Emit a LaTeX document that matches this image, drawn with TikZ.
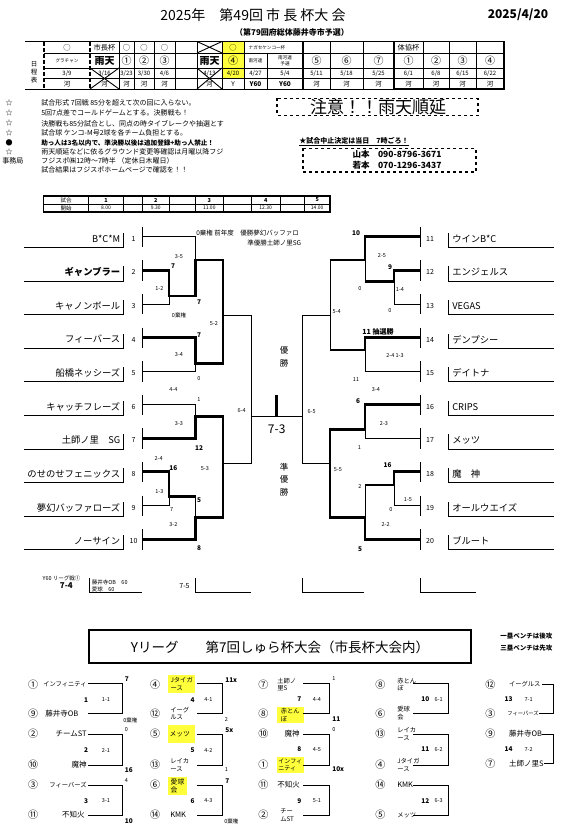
\documentclass[tikz,border=0pt]{standalone}
\usepackage{fontspec}
\setmainfont{Noto Sans CJK JP}
\usetikzlibrary{positioning}
\definecolor{hiyellow}{RGB}{255,255,60}
\tikzset{
  win/.style={line width=2.9pt},
  tname/.style={font=\fontsize{9.3}{10}\selectfont,inner sep=0pt},
  tnum/.style={font=\fontsize{7}{8}\selectfont,inner sep=0pt},
  sc/.style={font=\fontsize{5.5}{6}\selectfont,inner sep=0pt},
  bsc/.style={font=\bfseries\fontsize{6.5}{7}\selectfont,inner sep=0pt},
  cell/.style={font=\fontsize{6.5}{7}\selectfont,inner sep=0pt},
  tinytxt/.style={font=\fontsize{4.6}{5.5}\selectfont,inner sep=0pt,align=center},
  circ/.style={font=\fontsize{10}{11}\selectfont,inner sep=0pt},
  notetxt/.style={font=\fontsize{7}{8}\selectfont,inner sep=0pt,anchor=west},
  lname/.style={font=\fontsize{7.5}{8}\selectfont,inner sep=0pt},
  lname2/.style={font=\fontsize{6.3}{7.5}\selectfont,inner sep=0pt,align=left},
  hl/.style={fill=hiyellow,inner sep=0pt,align=left},
}
\begin{document}
\begin{tikzpicture}[x=1pt,y=-1pt,line width=0.6pt]
\useasboundingbox (0,0) rectangle (577,839);
\fill[white] (0,0) rectangle (577,839);

% title
\node[font=\fontsize{14}{15}\selectfont] (title) at (253,15) {2025年　第49回 市 長 杯大 会};
\node[font=\bfseries\fontsize{12}{13}\selectfont] (date) at (518,15) {2025/4/20};
\node[font=\bfseries\fontsize{8}{9}\selectfont] (sub) at (292,32.5) {（第79回府総体藤井寺市予選）};

% schedule table
\fill[hiyellow] (222,41.5) rectangle (244,78.5);
\foreach \x in {119,134,154,175,197,222,244,330,363,423,449,476}
  \draw (\x,41.5) -- (\x,89);
\draw (267,53) -- (267,89);
\foreach \y in {53,68,78.5}
  \draw (44,\y) -- (504,\y);
\draw[line width=1pt] (25,41.5) -- (504,41.5) (25,89) -- (504,89);
\draw[line width=1.4pt] (303,41.5) -- (303,89);
\draw[line width=1.6pt] (394,41.5) rectangle (504,89);
\foreach \x in {44,90}
  \draw[line width=2pt,dash pattern=on 4pt off 2pt] (\x,41.5) -- (\x,89);
\draw[line width=0.9pt] (197,41.5) -- (222,53) (197,53) -- (222,41.5);
\node[cell,align=center] (nittei) at (34,72) {日\\[1pt]程\\[1pt]表};
% row 1
\foreach \x/\t in {67/○,104.5/市長杯,126.5/○,144/○,164.5/○,233/○,408.5/体協杯}
  \node[cell,font=\fontsize{7.3}{8}\selectfont] at (\x,47.3) {\t};
\node[tinytxt] (nagase) at (267,47.3) {ナガセケンコー杯};
% row 2
\node[tinytxt] (gura) at (67,60.5) {グラチャン};
\foreach \x in {104.5,209.5}
  \node[font=\bfseries\fontsize{10}{11}\selectfont,inner sep=0pt] at (\x,60.5) {雨天};
\foreach \x/\t in {126.5/①,144/②,164.5/③,233/④,316.5/⑤,346.5/⑥,378.5/⑦,408.5/①,436/②,462.5/③,490/④}
  \node[circ] at (\x,60.5) {\t};
\node[tinytxt] (minami) at (255.5,60.5) {南河連};
\node[tinytxt] (minami2) at (285,60.5) {南河連\\予選};
% row 3
\foreach \x/\t in {67/3\slash9,104.5/3\slash16,126.5/3\slash23,144/3\slash30,164.5/4\slash6,209.5/4\slash13,233/4\slash20,255.5/4\slash27,285/5\slash4,316.5/5\slash11,346.5/5\slash18,378.5/5\slash25,408.5/6\slash1,436/6\slash8,462.5/6\slash15,490/6\slash22}
  \node[cell,font=\fontsize{6}{7}\selectfont] at (\x,73.3) {\t};
% row 4
\foreach \x in {67,104.5,126.5,144,164.5,209.5,316.5,346.5,378.5,408.5,436,462.5,490}
  \node[cell] at (\x,83.8) {河};
\node[cell] at (233,83.8) {Y};
\foreach \x in {255.5,285}
  \node[cell,font=\bfseries\fontsize{6.5}{7}\selectfont] at (\x,83.8) {Y60};
\draw[line width=0.9pt] (90,68) -- (119,89) (90,89) -- (119,68);
\draw[line width=0.9pt] (197,68) -- (222,89) (197,89) -- (222,68);

% notes
\foreach \y/\s/\t in {103.3/☆/試合形式 7回戦 85分を超えて次の回に入らない。,
  113.3/☆/5回7点差でコールドゲームとする。決勝戦も！,
  123.3/☆/決勝戦も85分試合とし、同点の時タイブレークや抽選とす,
  133.3/☆/試合球 ケンコ-M号2球を各チーム負担とする。,
  151.7/☆/雨天順延などに依るグラウンド変更等確認は月曜以降フジ}{
  \node[notetxt,anchor=center] at (9,\y) {\s};
  \node[notetxt] at (41,\y) {\t};
}
\node[notetxt,anchor=center] (dot) at (9,142.7) {●};
\node[notetxt,font=\bfseries\fontsize{6.6}{8}\selectfont] (helper) at (41,142.7) {助っ人は3名以内で、準決勝以後は追加登録+助っ人禁止！};
\node[notetxt] (jimu) at (2,160.7) {事務局};
\node[notetxt] (fuji) at (41,160.7) {フジスポ㈱12時～7時半 （定休日木曜日）};
\node[notetxt] (kekka) at (41,170) {試合結果はフジスポホームページで確認を！！};

\draw[dashed,line width=1.4pt] (277,98.3) rectangle (478,115.5);
\node[font=\fontsize{17}{18}\selectfont,inner sep=0pt] (chui) at (378,107) {注意！！雨天順延};
\node[notetxt,font=\bfseries\fontsize{7}{8}\selectfont] (stop) at (299,141.7) {\underline{★試合中止決定は当日　7時ごろ！}};
\draw[dashed,line width=1.4pt] (303,148.3) rectangle (476,172);
\node[font=\bfseries\fontsize{8.5}{9}\selectfont,inner sep=0pt] (yama) at (397,154.5) {山本　090-8796-3671};
\node[font=\bfseries\fontsize{8.5}{9}\selectfont,inner sep=0pt] (waka) at (397,165) {若本　070-1296-3437};

% time table
\draw[line width=1.4pt] (43.5,196) rectangle (330,212);
\foreach \x in {88.5,123.6,142,169.7,195.6,223,251,280.4,304.4}
  \draw (\x,196) -- (\x,212);
\draw (43.5,204) -- (330,204);
\node[sc] at (66,200) {試合};
\node[sc] at (66,208) {開始};
\foreach \x/\g/\t in {106/1/8.00,155.8/2/9.30,209.3/3/11.00,265.7/4/12.30,317.2/5/14.00}{
  \node[sc,font=\bfseries\fontsize{5.5}{6}\selectfont] at (\x,200) {\g};
  \node[sc,font=\fontsize{5}{6}\selectfont] at (\x,208) {\t};
}

% bracket teams
\foreach \i/\n in {1/B*C*M,2/\textbf{ギャンブラー},3/キャノンボール,4/フィーバース,5/船橋ネッシーズ,6/キャッチフレーズ,7/土師ノ里　SG,8/のせのせフェニックス,9/夢幻バッファローズ,10/ノーサイン}{
  \pgfmathsetmacro\yy{236.7+33.6*(\i-1)}
  \draw (24,\yy+10.5) -- (123.5,\yy+10.5) -- (123.5,\yy-4);
  \node[tname,anchor=east] (lteam\i) at (120.5,\yy+2) {\n};
  \node[tnum] (lno\i) at (133.6,\yy+2) {\i};
  \draw (142,\yy-10) -- (142,\yy+10.5);
  \coordinate (lt\i) at (142,\yy);
}
\foreach \i/\n in {11/ウインB*C,12/エンジェルス,13/VEGAS,14/デンプシー,15/デイトナ,16/CRIPS,17/メッツ,18/魔　神,19/オールウエイズ,20/ブルート}{
  \pgfmathsetmacro\yy{236.7+33.6*(\i-11)}
  \draw (553.5,\yy+10.5) -- (448,\yy+10.5) -- (448,\yy-4);
  \node[tname,anchor=west] (rteam\i) at (452,\yy+2) {\n};
  \node[tnum] (rno\i) at (430,\yy+2) {\i};
  \draw (420.7,\yy-10) -- (420.7,\yy+10.5);
  \coordinate (rt\i) at (420.7,\yy);
}

% left side
\draw[win] (lt2) -| (169,296) -| (195.6,260) -| (223,315);
\draw (lt3) -| (169,296);
\draw (lt1) -| (195.6,260);
\draw[win] (lt4) -| (195.6,363.3) -| (223,315);
\draw (lt5) -| (195.6,363.3);
\draw (lt6) -| (195.6,416.7);
\draw[win] (lt7) -| (195.6,416.7) -| (223,463.3);
\draw[win] (lt8) -| (169,496.7) -- (195.6,496.7);
\draw (lt9) -| (169,496.7);
\draw (195.6,496.7) -- (195.6,517.3);
\draw[win] (lt10) -| (195.6,517.3) -| (223,463.3);
\draw (223,315) -| (251,463.3) -- (223,463.3);

% right side
\draw[win] (rt11) -| (365,260) -- (330,260);
\draw[win] (rt12) -| (394,281.7) -- (365,281.7);
\draw (rt13) -| (394,281.7);
\draw (365,260) -- (365,281.7);
\draw[win] (rt14) -| (365,350) -- (330,350);
\draw (rt15) -| (365,350);
\draw (330,260) -- (330,350);
\draw (330,315) -| (302.6,463.3) -- (330,463.3);
\draw[win] (rt16) -| (365,429.3) -| (330,463.3);
\draw (rt17) -| (365,429.3);
\draw[win] (rt18) -| (394,485) -- (365,485);
\draw (rt19) -| (394,485);
\draw (365,485) -- (365,517.3);
\draw[win] (rt20) -| (365,517.3) -| (330,463.3);

% final
\draw (251,416.7) -- (302.6,416.7);
\draw[win] (276.7,395) -- (276.7,416.7);
\node[font=\fontsize{12}{13}\selectfont,inner sep=0pt] (fin) at (276.7,429) {7-3};
\node[font=\fontsize{8.5}{13}\selectfont,inner sep=0pt,align=center] (yusho) at (284,356.5) {優\\勝};
\node[font=\fontsize{8.5}{12.5}\selectfont,inner sep=0pt,align=center] (junyu) at (284,479.3) {準\\優\\勝};

% left labels
\foreach \x/\y/\t in {179/256.7/3-5,159.4/288.3/1-2,179/315/0棄権,214/323.3/5-2,179/355/3-4,199/378.3/0,173.4/389.3/4-4,199/400/1,241.7/411/6-4,179/423.3/3-3,158.7/458.3/2-4,204.8/468.3/5-3,159.4/491.7/1-3,171.6/510/7,173.4/525/3-2}
  \node[sc] at (\x,\y) {\t};
\foreach \x/\y/\t in {173/266.5/7,199/301.7/7,199/335/7,199/448.3/12,173.4/468.3/16,199/500/5,199/548.3/8}
  \node[bsc] at (\x,\y) {\t};
\node[sc,anchor=west,font=\fontsize{6.5}{7}\selectfont] (zen) at (196,233.3) {0棄権 前年度　優勝夢幻バッファロ};
\node[sc,anchor=west,font=\fontsize{6.5}{7}\selectfont] (jun) at (247,243.3) {準優勝土師ノ里SG};

% right labels
\foreach \x/\y/\t in {382/256/2-5,360/288.3/0,400/290/1-4,390/311/0,336.7/311.7/5-4,395/356/2-4 1-3,356/379.3/11,376/390/3-4,311.7/411.7/6-5,384/423.3/2-3,359.5/447.5/1,338/470/5-5,360/486.7/2,408/500/1-5,391/510/0,385.6/524/2-2}
  \node[sc] at (\x,\y) {\t};
\foreach \x/\y/\t in {356/233.3/10,390/266.7/9,358/400.7/6,387.5/465/16,360/549.3/5}
  \node[bsc] at (\x,\y) {\t};
\node[bsc,font=\bfseries\fontsize{7}{8}\selectfont] (lot) at (378,331.7) {11 抽選勝};

% Y60 league
\node[sc,anchor=west] (y60) at (42.4,578.3) {Y60 リーグ戦①};
\node[bsc,font=\bfseries\fontsize{8}{9}\selectfont] (g74) at (66.4,585.7) {7-4};
\draw (89.7,578.3) -- (89.7,592.7) -- (142,592.7);
\node[sc,anchor=west] (ob60) at (91.5,582.7) {藤井寺OB　60};
\node[sc,anchor=west] (ak60) at (91.5,589.3) {愛球　60};
\node[sc,font=\fontsize{7}{8}\selectfont] (g75) at (184.5,585.7) {7-5};
\foreach \a/\b in {195.6/251,302.6/363.5,420.7/476}
  \draw (\a,578.3) -- (\a,592.7) -- (\b,592.7);

\draw[line width=2pt] (88.6,630) rectangle (470.5,663.3);
\node[font=\fontsize{13.5}{14}\selectfont,inner sep=0pt] (yl) at (280,647) {Yリーグ　　第7回しゅら杯大会（市長杯大会内）};
\node[bsc,anchor=west] (b1) at (500,636) {一塁ベンチは後攻};
\node[bsc,anchor=west] (b3) at (500,648.3) {三塁ベンチは先攻};

% league col 1
\foreach \y/\t in {684.3/①,713.3/⑨,734/②,765/⑩,785/③,815/⑪}
  \node[circ] at (33,\y) {\t};
\node[lname2,anchor=east] (l1a) at (87,684.3) {インフィニティ};
\node[lname,anchor=west] (l1b) at (45,713.3) {藤井寺OB};
\node[lname,anchor=east] (l1c) at (87,734) {チームST};
\node[lname,anchor=east] (l1d) at (87,765) {魔神};
\node[lname2,anchor=east] (l1e) at (87,785) {フィーバーズ};
\node[lname,anchor=east] (l1f) at (85,815) {不知火};
\foreach \ya/\yb in {683.3/713.3,734/765,785/815}
  \draw (88.3,\ya) -| (122.7,\yb) -- (88.3,\yb);
\foreach \y/\g/\m in {700/1/1-1,750/2/2-1,801/3/3-1}{
  \node[bsc] at (86,\y) {\g};
  \node[sc] at (106,\y) {\m};
}
\node[bsc,anchor=west] at (124.5,679.3) {7};
\node[sc,anchor=west] at (123,720) {0棄権};
\node[sc,anchor=west] at (124.5,730) {0};
\node[bsc,anchor=west] at (124.5,770) {16};
\node[sc,anchor=west] at (124.5,780.7) {4};
\node[bsc,anchor=west] at (124.5,821) {10};

% league col 2
\foreach \y/\t in {684.3/④,713.3/⑫,734/⑤,765/⑬,785/⑥,815/⑭}
  \node[circ] at (155,\y) {\t};
\node[lname2,hl,minimum width=26.7pt,minimum height=18.3pt] (l2a) at (181.7,684.2) {Jタイガ\\ース};
\node[lname2,anchor=west] (l2b) at (170,713.3) {イーグ\\ルス};
\node[lname2,hl,minimum width=26.7pt,minimum height=18.3pt,font=\fontsize{6.8}{7.5}\selectfont] (l2c) at (181.7,734.2) {メッツ\hspace{4pt}};
\node[lname2,anchor=west] (l2d) at (170,765) {レイカ\\ース};
\node[lname2,hl,minimum width=18.4pt,minimum height=18.3pt,font=\fontsize{6.8}{8}\selectfont] (l2e) at (177.5,785.8) {愛球\\会};
\node[lname,anchor=west] (l2f) at (170,815) {KMK};
\foreach \ya/\yb in {683.3/713.3,734/765,785/815}
  \draw (196.7,\ya) -| (222.7,\yb) -- (196.7,\yb);
\foreach \y/\g/\m in {700/4/4-1,750/5/4-2,801/6/4-3}{
  \node[bsc] at (192.7,\y) {\g};
  \node[sc] at (208.3,\y) {\m};
}
\node[bsc,anchor=west] at (225,680) {11x};
\node[sc,anchor=west] at (224.5,719.3) {2};
\node[bsc,anchor=west] at (225,730) {5x};
\node[sc,anchor=west] at (224.5,769.3) {1};
\node[bsc,anchor=west] at (225,780.7) {7};
\node[sc,anchor=west] at (224,821.7) {0棄権};

% league col 3
\foreach \y/\t in {684.3/⑦,713.3/⑧,734/⑩,765/①,785/⑪,815/②}
  \node[circ] at (263.3,\y) {\t};
\node[lname2,anchor=west] (l3a) at (277,684.3) {土師ノ\\里S};
\node[lname2,hl,minimum width=26.7pt,minimum height=16.6pt] (l3b) at (290.3,715) {赤とん\\ぼ};
\node[lname,anchor=east] (l3c) at (300,734) {魔神};
\node[lname2,hl,minimum width=26.7pt,minimum height=16.6pt,font=\fontsize{6}{7.5}\selectfont] (l3d) at (290.3,765) {インフィ\\ニティ};
\node[lname,anchor=west] (l3e) at (277,785) {不知火};
\node[lname2,anchor=west] (l3f) at (280,815) {チー\\ムST};
\foreach \ya/\yb in {683.3/713.3,734/765,785/815}
  \draw (303,\ya) -| (329.7,\yb) -- (303,\yb);
\foreach \y/\g/\m in {699.3/7/4-4,749.3/8/4-5,801/9/5-1}{
  \node[bsc] at (299.3,\y) {\g};
  \node[sc] at (317,\y) {\m};
}
\node[sc,anchor=west] at (332,678.3) {1};
\node[bsc,anchor=west] at (332,719.3) {11};
\node[sc,anchor=west] at (332,730) {0};
\node[bsc,anchor=west] at (332,769.3) {10x};

% league col 4
\foreach \y/\t in {684.3/⑧,713.3/⑥,734/⑬,765/④,785/⑭,815/⑤}
  \node[circ] at (380.3,\y) {\t};
\foreach \y/\t in {684.3/赤とん\\ぼ,713.3/愛球\\会,734/レイカ\\ース,765/Jタイガ\\ース}
  \node[lname2,anchor=west] at (397,\y) {\t};
\node[lname,anchor=west] (l4e) at (397,785) {KMK};
\node[lname2,anchor=west] (l4f) at (397,815) {メッツ};
\foreach \ya/\yb in {683.3/713.3,734/765,785/815}
  \draw (413,\ya) -| (448.7,\yb) -- (413,\yb);
\foreach \y/\g/\m in {699.3/10/6-1,749.3/11/6-2,801/12/6-3}{
  \node[bsc] at (425.3,\y) {\g};
  \node[sc] at (438.7,\y) {\m};
}

% league col 5
\foreach \y/\t in {684.3/⑫,713.3/③,734/⑨,763.3/⑦}
  \node[circ] at (490.3,\y) {\t};
\node[lname2,anchor=west] (l5a) at (508.7,684.3) {イーグルス};
\node[lname2,anchor=east,font=\fontsize{5.3}{6}\selectfont] (l5b) at (539,713.3) {フィーバーズ};
\node[lname,anchor=west] (l5c) at (508.7,734) {藤井寺OB};
\node[lname,anchor=west] (l5d) at (508.7,763.3) {土師ノ里S};
\draw (542,684.3) -| (553.7,713.3) -- (l5b.east);
\draw (542,734) -| (553.7,763.3) -- (l5d.east);
\foreach \y/\g/\m in {699.3/13/7-1,749.3/14/7-2}{
  \node[bsc] at (508.7,\y) {\g};
  \node[sc] at (528.7,\y) {\m};
}
\end{tikzpicture}
\end{document}
